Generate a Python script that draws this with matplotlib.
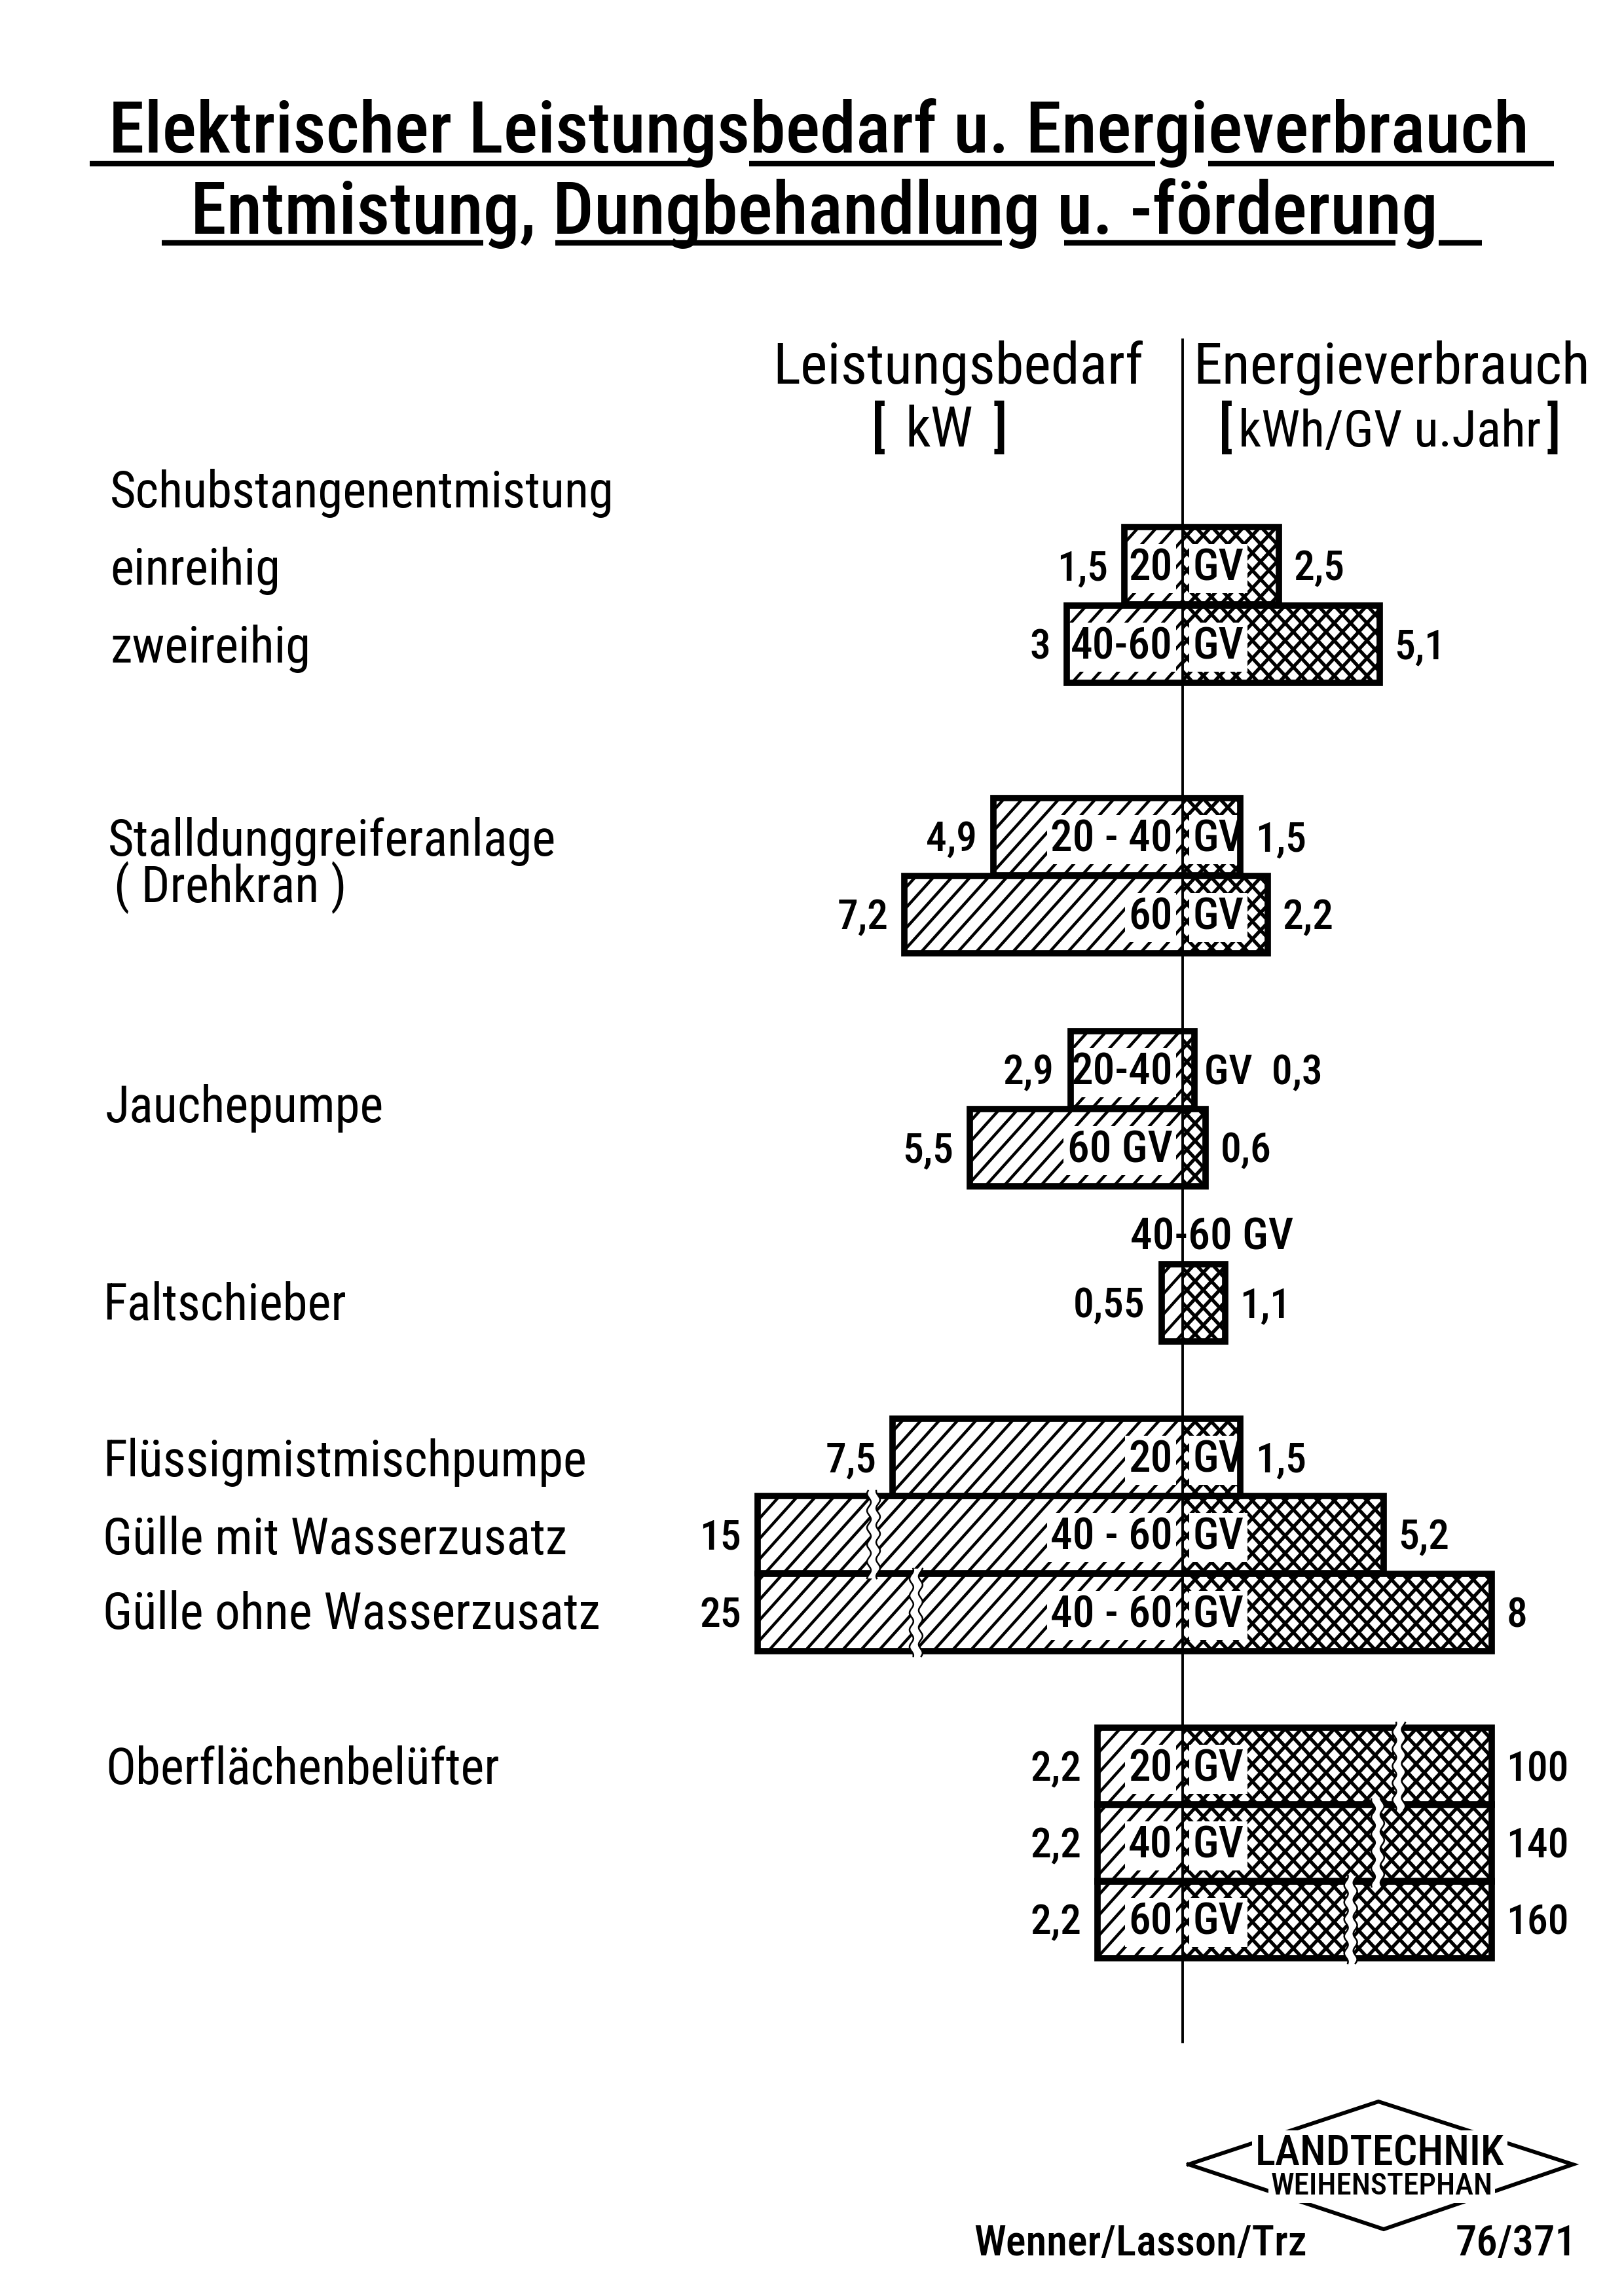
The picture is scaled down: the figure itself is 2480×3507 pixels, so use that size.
import numpy as np
import matplotlib
matplotlib.use('Agg')
import matplotlib.pyplot as plt
from matplotlib import font_manager
from matplotlib.collections import LineCollection
from matplotlib.patches import Polygon

## narrow lettering if one is installed, DejaVu otherwise
names = {f.name for f in font_manager.fontManager.ttflist}
FONT = 'DejaVu Sans'
for cand in ['Liberation Sans Narrow', 'Roboto Condensed', 'Open Sans Condensed']:
    if cand in names:
        FONT = cand
        break
plt.rcParams['font.family'] = [FONT, 'DejaVu Sans']
plt.rcParams['font.weight'] = 'medium'

## texts
title_1 = 'Elektrischer Leistungsbedarf u. Energieverbrauch'
title_2 = 'Entmistung, Dungbehandlung u. -förderung'
head_left = 'Leistungsbedarf'
head_right = 'Energieverbrauch'
unit_left = 'kW'
unit_right = 'kWh/GV u.Jahr'
group_labels = ['Schubstangenentmistung', 'einreihig', 'zweireihig',
                'Stalldunggreiferanlage', '( Drehkran )', 'Jauchepumpe',
                'Faltschieber', 'Flüssigmistmischpumpe', 'Gülle mit Wasserzusatz',
                'Gülle ohne Wasserzusatz', 'Oberflächenbelüfter']

## values, one entry per bar row
kw = np.array([1.5, 3, 4.9, 7.2, 2.9, 5.5, 0.55, 7.5, 15, 25, 2.2, 2.2, 2.2])
kwh = np.array([2.5, 5.1, 1.5, 2.2, 0.3, 0.6, 1.1, 1.5, 5.2, 8, 100, 140, 160])
kw_text = ['1,5', '3', '4,9', '7,2', '2,9', '5,5', '0,55', '7,5', '15', '25', '2,2', '2,2', '2,2']
kwh_text = ['2,5', '5,1', '1,5', '2,2', '0,3', '0,6', '1,1', '1,5', '5,2', '8', '100', '140', '160']
herd = ['20', '40-60', '20 - 40', '60', '20-40', '60', '40-60', '20', '40 - 60', '40 - 60', '20', '40', '60']

## layout in page pixels
W, H, DPI = 2480, 3507, 100
CENTER = 1806
SCALE = 59.0
row_y = [864, 984, 1278, 1397, 1634, 1753, 1990, 2226, 2344, 2463, 2698, 2815, 2932]
BAR_H = 118
group_x = [168, 168, 168, 165, 174, 161, 157, 157, 157, 157, 161]
group_y = [747, 865, 984, 1279, 1351, 1686, 1988, 2227, 2346, 2460, 2697]
herd_mode = ['split', 'split', 'split', 'split', 'out', 'left', 'above',
             'split', 'split', 'split', 'split', 'split', 'split']
KW_CAP, KWH_CAP = 11.0, 8.0          # broken bars are drawn cut at these
kw_break = {8: -8.0, 9: -6.9}
kwh_break = {10: 5.6, 11: 5.05, 12: 4.35}

fig = plt.figure(figsize=(W / DPI, H / DPI), dpi=DPI, facecolor='white')
pg = fig.add_axes([0, 0, 1, 1])
pg.set_xlim(0, W)
pg.set_ylim(H, 0)
pg.axis('off')
ax = fig.add_axes([0, 0, 1, 1])
ax.set_xlim(-CENTER / SCALE, (W - CENTER) / SCALE)
ax.set_ylim(H, 0)
ax.axis('off')
ax.patch.set_visible(False)
r = fig.canvas.get_renderer()


def fit(t, width):
    w = t.get_window_extent(r).width
    t.set_fontsize(t.get_fontsize() * width / w)
    return t.get_fontsize()


def half_cap(size):
    return 0.36 * size * DPI / 72


def to_px(bbox):
    pts = pg.transData.inverted().transform(ax.transData.transform(bbox.get_points()))
    return pts[:, 0].min(), pts[:, 0].max(), pts[:, 1].min(), pts[:, 1].max()


def hatch(patch, fam, s, ang, lw):
    x0, x1, ytop, ybot = to_px(patch.get_bbox())
    t = np.tan(np.radians(ang))
    segs = []
    if '/' in fam:
        for c in range(int(np.floor((x0 + ytop / t) / s)), int(np.ceil((x1 + ybot / t) / s)) + 1):
            segs.append([(c * s - ybot / t, ybot), (c * s - ytop / t, ytop)])
    if '\\' in fam:
        for c in range(int(np.floor((x0 - ybot / t) / s)), int(np.ceil((x1 - ytop / t) / s)) + 1):
            segs.append([(c * s + ybot / t, ybot), (c * s + ytop / t, ytop)])
    lc = LineCollection(segs, colors='black', linewidths=lw, transform=pg.transData, zorder=2)
    ax.add_collection(lc, autolim=False)
    lc.set_clip_path(patch)


def cut(xb, ytop, ybot):
    ys = np.linspace(ytop - 8, ybot + 8, 60)
    xl = xb - 7 + 3 * np.sin(2 * np.pi * ys / 26)
    xr = xb + 7 + 3 * np.sin(2 * np.pi * ys / 26 + 0.9)
    band = Polygon(np.vstack([np.column_stack([xl, ys]), np.column_stack([xr, ys])[::-1]]),
                   closed=True, fc='white', ec='none', transform=pg.transData, zorder=5)
    ax.add_patch(band)
    ax.plot(xl, ys, color='black', lw=1.8, transform=pg.transData, zorder=6)
    ax.plot(xr, ys, color='black', lw=1.8, transform=pg.transData, zorder=6)


## title with broken underlines
t1 = pg.text(166, 233, title_1, ha='left', va='baseline', fontsize=60)
fit(t1, 2170)
t2 = pg.text(291, 357, title_2, ha='left', va='baseline', fontsize=60)
fit(t2, 1906)
for a, b in [(137, 1060), (1144, 1764), (1845, 2373)]:
    pg.plot([a, b], [250, 250], color='black', lw=6, solid_capstyle='butt')
for a, b in [(247, 738), (848, 1530), (1625, 2131), (2197, 2263)]:
    pg.plot([a, b], [371, 371], color='black', lw=6, solid_capstyle='butt')

## column heads
th = pg.text(1822, 586, head_right, ha='left', va='baseline', fontsize=50, fontweight='normal')
HEAD = fit(th, 606)
pg.text(1746, 586, head_left, ha='right', va='baseline', fontsize=HEAD, fontweight='normal')
tu = pg.text(2122, 682, unit_right, ha='center', va='baseline', fontsize=40, fontweight='normal')
UNIT = fit(tu, 462)
pg.text(1434, 682, unit_left, ha='center', va='baseline', fontsize=UNIT * 1.1, fontweight='normal')
for bx, ch in [(1342, '['), (1527, ']'), (1872, '['), (2372, ']')]:
    pg.text(bx, 657, ch, ha='center', va='center', fontsize=60)

## row labels on the left
tl = pg.text(0, 0, group_labels[0], fontsize=40, fontweight='normal')
LBL = fit(tl, 769)
tl.remove()
for s, x, y in zip(group_labels, group_x, group_y):
    pg.text(x, y + half_cap(LBL), s, ha='left', va='baseline', fontsize=LBL, fontweight='normal')

tn = pg.text(0, 0, kw_text[0], fontsize=40)
NUM = fit(tn, 78)
tn.remove()
HERD = NUM * 1.06

## bars
kw_shown = np.minimum(kw, KW_CAP)
kwh_shown = np.minimum(kwh, KWH_CAP)
left = ax.barh(row_y, kw_shown, left=-kw_shown, height=BAR_H, color='white', edgecolor='none', zorder=1)
right = ax.barh(row_y, kwh_shown, left=0, height=BAR_H, color='white', edgecolor='none', zorder=1)
frame = ax.barh(row_y, kw_shown + kwh_shown, left=-kw_shown, height=BAR_H, fill=False,
                edgecolor='black', linewidth=7, zorder=4)
for p in frame.patches:
    p.set_joinstyle('miter')
for p in left.patches:
    hatch(p, '/', 28, 48, 3.2)
for p in right.patches:
    hatch(p, '/\\', 25, 47, 3.8)

for i, b in list(kw_break.items()) + list(kwh_break.items()):
    x0, x1, yt, yb = to_px(frame.patches[i].get_bbox())
    xb = to_px(frame.patches[i].get_bbox().from_extents(b, yt, b, yb))[0]
    cut(xb, yt, yb)

## numbers and herd sizes
box = dict(boxstyle='square,pad=0.08', fc='white', ec='none')
for i in range(len(row_y)):
    yb = row_y[i] + half_cap(NUM)
    ax.annotate(kw_text[i], (-kw_shown[i], yb), xytext=(-18, 0), textcoords='offset points',
                ha='right', va='baseline', fontsize=NUM, zorder=3)
    mode = herd_mode[i]
    rtxt = ('GV  ' if mode == 'out' else '') + kwh_text[i]
    ax.annotate(rtxt, (kwh_shown[i], yb), xytext=(11 if mode == 'out' else 16, 0),
                textcoords='offset points', ha='left', va='baseline', fontsize=NUM, zorder=3)
    if mode == 'split':
        ax.annotate(herd[i], (0, yb), xytext=(-11, 0), textcoords='offset points',
                    ha='right', va='baseline', fontsize=HERD, bbox=box, zorder=3)
        ax.annotate('GV', (0, yb), xytext=(11, 0), textcoords='offset points',
                    ha='left', va='baseline', fontsize=HERD, bbox=box, zorder=3)
    elif mode == 'out':
        ax.annotate(herd[i], (0, yb), xytext=(-11, 0), textcoords='offset points',
                    ha='right', va='baseline', fontsize=HERD, bbox=box, zorder=3)
    elif mode == 'left':
        ax.annotate(herd[i] + ' GV', (0, yb), xytext=(-11, 0), textcoords='offset points',
                    ha='right', va='baseline', fontsize=HERD, bbox=box, zorder=3)
    else:
        ax.annotate(herd[i] + ' GV', (0, row_y[i] - BAR_H / 2), xytext=(-57.6, 16.5),
                    textcoords='offset points', ha='left', va='baseline', fontsize=HERD, zorder=3)

ax.plot([0, 0], [519, 3119], color='black', lw=2.8, zorder=7)

## logo and footer
pg.plot([1815, 2105, 2402, 2113, 1815], [3306, 3210, 3306, 3405, 3306], color='black', lw=4.3,
        solid_joinstyle='miter', zorder=1)
lg = pg.text(2107, 3308, 'LANDTECHNIK', ha='center', va='baseline', fontsize=30, zorder=2,
             bbox=dict(boxstyle='square,pad=0.08', fc='white', ec='none'))
fit(lg, 380)
lw2 = pg.text(2110, 3352, 'WEIHENSTEPHAN', ha='center', va='baseline', fontsize=25, zorder=2,
              bbox=dict(boxstyle='square,pad=0.08', fc='white', ec='none'))
fit(lw2, 340)
ft = pg.text(1487, 3445, 'Wenner/Lasson/Trz', ha='left', va='baseline', fontsize=30)
FOOT = fit(ft, 509)
pg.text(2408, 3445, '76/371', ha='right', va='baseline', fontsize=FOOT)

fig.savefig('out.png', dpi=DPI, facecolor='white')
